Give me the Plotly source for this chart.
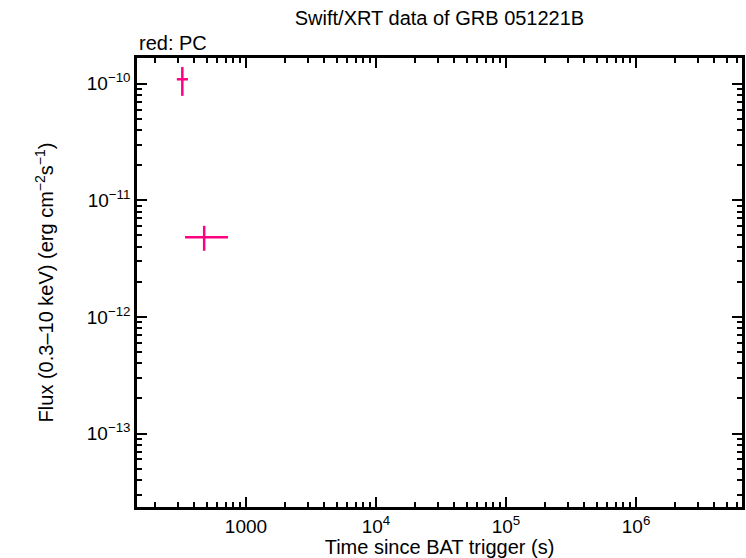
import numpy as np
import plotly.graph_objects as go

# PC mode data (time in s, flux in erg cm^-2 s^-1)
t = [324, 477]
t_lo = [294, 340]
t_hi = [358, 728]
flux = [1.09e-10, 4.81e-12]
flux_lo = [7.86e-11, 3.69e-12]
flux_hi = [1.39e-10, 6.04e-12]

x_tickvals = [1000, 1e4, 1e5, 1e6]
x_ticktext = ["1000", "10<sup>4</sup>", "10<sup>5</sup>", "10<sup>6</sup>"]
y_tickvals = [1e-13, 1e-12, 1e-11, 1e-10]
y_ticktext = ["10<sup>−13</sup>", "10<sup>−12</sup>", "10<sup>−11</sup>", "10<sup>−10</sup>"]

color = "#ff0080"

fig = go.Figure()
fig.add_trace(go.Scatter(
    x=t, y=flux, mode="markers",
    marker=dict(size=0.1, color=color),
    error_x=dict(type="data", symmetric=False,
                 array=[h - v for h, v in zip(t_hi, t)],
                 arrayminus=[v - l for v, l in zip(t, t_lo)],
                 color=color, thickness=2.5, width=0),
    error_y=dict(type="data", symmetric=False,
                 array=[h - v for h, v in zip(flux_hi, flux)],
                 arrayminus=[v - l for v, l in zip(flux, flux_lo)],
                 color=color, thickness=2.5, width=0),
    showlegend=False, hoverinfo="x+y",
))

x_minor = [m * 10 ** e for e in range(2, 7) for m in range(2, 10)]
y_minor = [m * 10 ** e for e in range(-14, -9) for m in range(2, 10)]

font = dict(family="Liberation Sans, Arial, Helvetica, sans-serif", color="black")

fig.update_layout(
    width=746, height=558,
    margin=dict(l=137, r=4, t=58, b=51),
    paper_bgcolor="white", plot_bgcolor="white",
    font=dict(size=19, **font),
    title=dict(text="Swift/XRT data of GRB 051221B", x=(137 + 742) / 2 / 746,
               xanchor="center", y=1 - 18 / 558, yanchor="middle",
               font=dict(size=20, **font)),
    annotations=[dict(text="red: PC", xref="paper", yref="paper", x=0, y=1,
                      xanchor="left", yanchor="bottom", yshift=2, showarrow=False,
                      font=dict(size=20, **font))],
)
fig.update_xaxes(
    type="log", range=[2.162, 6.815], automargin=False,
    tickmode="array", tickvals=x_tickvals, ticktext=x_ticktext,
    ticks="inside", ticklen=10, tickwidth=2, tickcolor="black",
    minor=dict(tickmode="array", tickvals=x_minor, ticks="inside", ticklen=5,
               tickwidth=2, tickcolor="black", showgrid=False),
    showline=True, linewidth=2.5, linecolor="black", mirror="allticks",
    showgrid=False, zeroline=False,
    title=dict(text="Time since BAT trigger (s)", standoff=2, font=dict(size=20, **font)),
    tickfont=dict(size=19, **font),
)
fig.update_yaxes(
    type="log", range=[-13.63, -9.78], automargin=False,
    tickmode="array", tickvals=y_tickvals, ticktext=y_ticktext,
    ticks="inside", ticklen=10, tickwidth=2, tickcolor="black",
    minor=dict(tickmode="array", tickvals=y_minor, ticks="inside", ticklen=5,
               tickwidth=2, tickcolor="black", showgrid=False),
    showline=True, linewidth=2.5, linecolor="black", mirror="allticks",
    showgrid=False, zeroline=False,
    title=dict(text="Flux (0.3–10 keV) (erg cm<sup>−2</sup>s<sup>−1</sup>)", standoff=28,
               font=dict(size=20, **font)),
    tickfont=dict(size=19, **font),
)

fig.write_html("out.html")
